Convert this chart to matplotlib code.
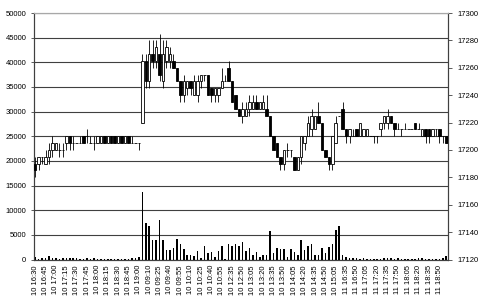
import matplotlib
matplotlib.use("Agg")
import matplotlib.pyplot as plt
import numpy as np

# ---- data (5-minute bars) ----
opens = [17190, 17190, 17195, 17190, 17195, 17200, 17200, 17200, 17200, 17205,
         17210, 17205, 17205, 17205, 17210, 17210, 17205, 17205, 17205, 17205,
         17210, 17205, 17210, 17210, 17205, 17210, 17205, 17210, 17205, 17205,
         17205,
         17220, 17265, 17250, 17270, 17265, 17270, 17250, 17265, 17265, 17265,
         17260, 17250, 17240, 17245, 17250, 17240, 17240, 17250, 17255, 17255,
         17245, 17240, 17240, 17245, 17250,
         17260, 17250, 17240, 17230, 17225, 17225, 17230, 17230, 17235, 17230,
         17230, 17230, 17225, 17210, 17205, 17195, 17190, 17200, 17200, 17195,
         17185, 17195, 17205, 17210, 17215, 17215, 17225, 17220, 17200, 17195,
         17190, 17205, 17225,
         17230, 17215, 17210, 17210, 17215, 17210, 17210, 17210, 17210, 17210,
         17210, 17215, 17220, 17220, 17225, 17220, 17215, 17215, 17215, 17215,
         17215, 17220, 17215, 17210, 17215, 17215, 17210, 17215, 17215, 17210,
         17210]
highs = [17195, 17195, 17195, 17200, 17205, 17210, 17205, 17205, 17205, 17210,
         17210, 17210, 17205, 17210, 17210, 17215, 17210, 17210, 17210, 17210,
         17210, 17210, 17210, 17210, 17210, 17210, 17210, 17210, 17210, 17205,
         17205,
         17270, 17270, 17280, 17280, 17280, 17285, 17280, 17280, 17275, 17270,
         17260, 17250, 17255, 17250, 17250, 17255, 17255, 17255, 17255, 17255,
         17245, 17245, 17245, 17260, 17255,
         17265, 17250, 17240, 17230, 17235, 17235, 17240, 17240, 17240, 17235,
         17240, 17240, 17225, 17210, 17205, 17195, 17200, 17205, 17200, 17195,
         17195, 17210, 17210, 17225, 17230, 17225, 17235, 17220, 17200, 17195,
         17210, 17225, 17225,
         17235, 17215, 17215, 17215, 17215, 17220, 17215, 17215, 17210, 17210,
         17210, 17220, 17225, 17230, 17225, 17220, 17220, 17215, 17220, 17215,
         17215, 17220, 17220, 17215, 17215, 17215, 17215, 17215, 17215, 17210,
         17210]
lows = [17180, 17185, 17190, 17190, 17190, 17195, 17200, 17195, 17195, 17200,
        17200, 17200, 17205, 17205, 17205, 17205, 17205, 17200, 17205, 17205,
        17205, 17205, 17205, 17205, 17205, 17205, 17205, 17205, 17205, 17205,
        17200,
        17220, 17245, 17245, 17260, 17260, 17250, 17245, 17260, 17260, 17260,
        17250, 17235, 17235, 17240, 17240, 17240, 17235, 17245, 17250, 17240,
        17235, 17235, 17235, 17245, 17250,
        17250, 17235, 17230, 17225, 17220, 17225, 17225, 17230, 17230, 17230,
        17230, 17225, 17210, 17200, 17195, 17185, 17185, 17195, 17195, 17185,
        17185, 17190, 17200, 17210, 17210, 17215, 17220, 17200, 17195, 17185,
        17185, 17205, 17225,
        17215, 17205, 17205, 17210, 17210, 17210, 17210, 17210, 17210, 17205,
        17205, 17210, 17215, 17215, 17220, 17210, 17215, 17210, 17215, 17215,
        17215, 17215, 17215, 17210, 17205, 17205, 17210, 17210, 17205, 17205,
        17205]
closes = [17185, 17195, 17195, 17195, 17200, 17205, 17205, 17200, 17200, 17210,
          17205, 17205, 17205, 17205, 17205, 17210, 17205, 17205, 17210, 17210,
          17205, 17210, 17205, 17205, 17210, 17205, 17210, 17205, 17205, 17205,
          17205,
          17265, 17250, 17270, 17265, 17275, 17255, 17270, 17275, 17270, 17260,
          17250, 17240, 17250, 17250, 17245, 17250, 17250, 17255, 17255, 17240,
          17240, 17245, 17245, 17250, 17250,
          17250, 17235, 17230, 17225, 17230, 17230, 17235, 17235, 17230, 17235,
          17235, 17225, 17210, 17200, 17195, 17190, 17200, 17200, 17200, 17185,
          17195, 17210, 17210, 17220, 17225, 17225, 17220, 17200, 17195, 17190,
          17210, 17220, 17225,
          17215, 17210, 17215, 17210, 17210, 17220, 17215, 17215, 17210, 17210,
          17210, 17220, 17225, 17225, 17220, 17215, 17215, 17215, 17215, 17215,
          17215, 17215, 17215, 17215, 17210, 17210, 17215, 17215, 17210, 17210,
          17205]
volumes = [520, 180, 250, 300, 650, 380, 250, 200, 300, 260,
           280, 330, 220, 180, 200, 350, 180, 220, 160, 150,
           200, 170, 150, 180, 170, 200, 160, 190, 230, 300,
           420,
           13700, 7400, 6700, 3900, 3900, 8100, 4000, 2000, 2000, 2400,
           4200, 3200, 2200, 950, 950, 800, 1800, 350, 2700, 1300,
           1600, 600, 1700, 2800, 200,
           3200, 2700, 3200, 2800, 3500, 1800, 2400, 900, 1500, 500,
           1000, 1000, 5700, 1300, 2400, 2100, 2100, 600, 2100, 1500,
           1000, 3900, 2000, 2700, 3200, 1000, 1000, 2400, 1300, 2500,
           3200, 6000, 6800,
           900, 600, 350, 300, 250, 200, 280, 180, 200, 150,
           180, 200, 300, 250, 220, 180, 250, 200, 180, 150,
           170, 200, 300, 250, 200, 180, 150, 200, 180, 250,
           650]
tick_labels = ["10 16:30", "10 16:45", "10 17:00", "10 17:15", "10 17:30",
               "10 17:45", "10 18:00", "10 18:15", "10 18:30", "10 18:45",
               "10 19:00", "10 09:10", "10 09:25", "10 09:40", "10 09:55",
               "10 10:10", "10 10:25", "10 10:40", "10 10:55", "10 12:35",
               "10 12:50", "10 13:05", "10 13:20", "10 13:35", "10 13:50",
               "10 14:05", "10 14:20", "10 14:35", "10 14:50", "10 15:05",
               "11 16:35", "11 16:50", "11 17:05", "11 17:20", "11 17:35",
               "11 17:50", "11 18:05", "11 18:20", "11 18:35", "11 18:50"]

o = np.array(opens, float); h = np.array(highs, float)
l = np.array(lows, float); c = np.array(closes, float)
v = np.array(volumes, float)
n = len(o)
x = np.arange(n)

plt.rcParams['font.family'] = ['Liberation Sans', 'DejaVu Sans']
FS = 5.5

fig = plt.figure(figsize=(4.85, 3.02), dpi=100)
ax = fig.add_axes([33.5/485, 1 - 259.5/302, (448 - 33.5)/485, (259.5 - 13)/302])
ax2 = ax.twinx()

grid_c = '#404040'
# volume (left axis)
ax.set_ylim(0, 50000)
ax.set_yticks(np.arange(0, 50001, 5000))
ax.yaxis.grid(True, color=grid_c, linewidth=0.8)
ax.set_axisbelow(True)
ax.bar(x, v, width=0.45, color='black', linewidth=0, zorder=3)

# candles (right axis)
ax2.set_ylim(17120, 17300)
ax2.set_yticks(np.arange(17120, 17301, 20))
ax2.vlines(x, l, h, color='black', linewidth=0.6, zorder=2)
up = c >= o
bottoms = np.minimum(o, c)
heights = np.abs(c - o)
ax2.bar(x, heights, bottom=bottoms, width=0.72,
        color=np.where(up, 'white', 'black'), edgecolor='black',
        linewidth=0.6, zorder=3)

ax.set_xlim(-0.5, n - 0.5)
ax.set_xticks(np.arange(0, n, 3))
ax.set_xticklabels(tick_labels, rotation=90, fontsize=FS)
ax.tick_params(axis='x', length=0, pad=4)
ax.tick_params(axis='y', labelsize=FS, length=2, width=0.6, color=grid_c, pad=3.2)
ax2.tick_params(axis='y', labelsize=FS, length=3, width=0.6, color=grid_c, pad=3.5)

for a in (ax, ax2):
    for s in a.spines.values():
        s.set_linewidth(0.8)
        s.set_color(grid_c)
    a.spines['top'].set_color('#a8a8a8')
ax2.patch.set_visible(False)

fig.savefig('out.png', dpi=100)
